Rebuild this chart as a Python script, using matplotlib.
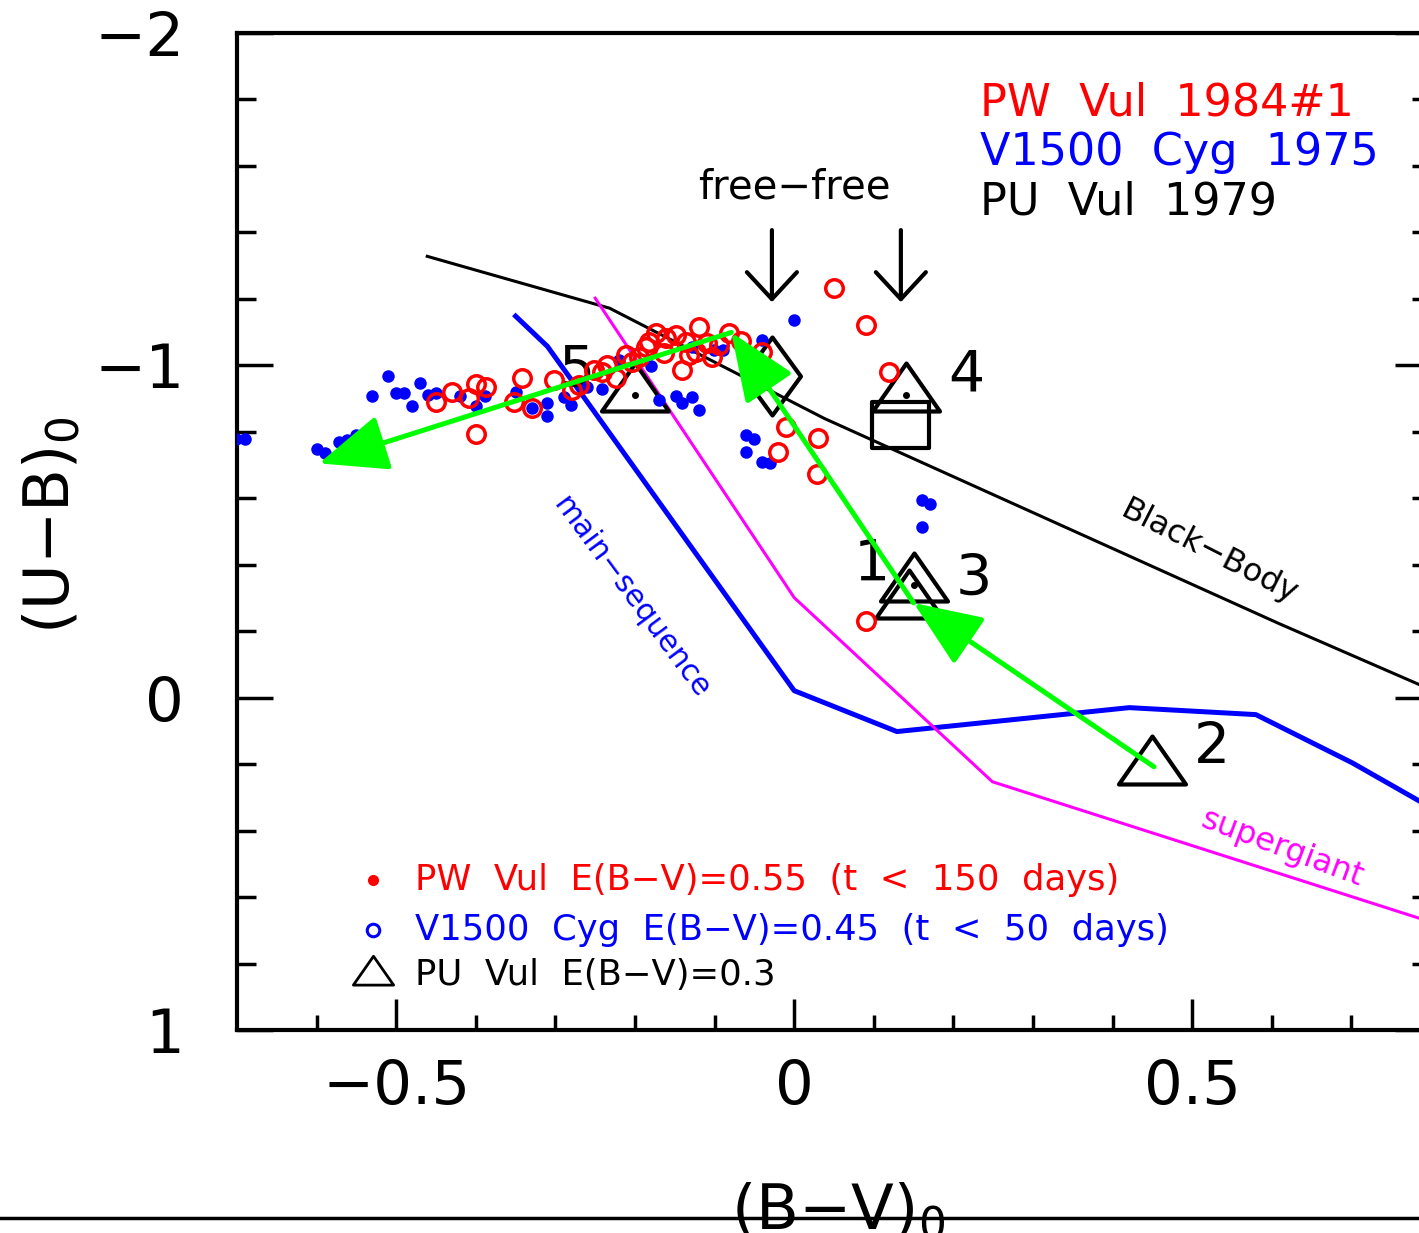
import matplotlib

matplotlib.use("Agg")

import matplotlib.pyplot as plt
from matplotlib.lines import Line2D
from matplotlib.markers import MarkerStyle
from matplotlib.path import Path


# PW Vul 1984#1, dereddened with E(B-V)=0.55
pw_bv = [
    -0.450, -0.430, -0.408, -0.400, -0.387, -0.400, -0.352, -0.342, -0.330,
    -0.302, -0.279, -0.270, -0.251, -0.241, -0.235, -0.224, -0.211, -0.204,
    -0.195, -0.186, -0.182, -0.173, -0.163, -0.161, -0.148, -0.141, -0.136,
    -0.132, -0.123, -0.119, -0.109, -0.103, -0.094, -0.082, -0.067, -0.040,
    0.050, 0.090, 0.119, -0.010, 0.030, -0.020, 0.029, 0.090,
]
pw_ub = [
    -0.889, -0.919, -0.901, -0.943, -0.934, -0.792, -0.889, -0.961, -0.873,
    -0.955, -0.925, -0.940, -0.985, -0.979, -1.000, -0.961, -1.030, -1.009,
    -1.024, -1.054, -1.069, -1.096, -1.036, -1.081, -1.090, -0.985, -1.069,
    -1.030, -1.039, -1.114, -1.066, -1.024, -1.060, -1.096, -1.072, -1.039,
    -1.232, -1.120, -0.979, -0.813, -0.780, -0.738, -0.672, -0.232,
]

# V1500 Cyg 1975, dereddened with E(B-V)=0.45
cyg_bv = [
    -0.701, -0.690, -0.600, -0.589, -0.572, -0.562, -0.550, -0.530, -0.510,
    -0.500, -0.490, -0.480, -0.470, -0.460, -0.450, -0.420, -0.400, -0.389,
    -0.349, -0.329, -0.310, -0.310, -0.289, -0.280, -0.260, -0.241, -0.220,
    -0.180, -0.170, -0.148, -0.141, -0.129, -0.119, -0.129, -0.101, -0.090,
    -0.040, 0.000, -0.060, -0.050, -0.060, -0.040, -0.030, 0.160, 0.170,
    0.160,
]
cyg_ub = [
    -0.777, -0.777, -0.747, -0.735, -0.768, -0.774, -0.789, -0.907, -0.967,
    -0.916, -0.916, -0.877, -0.946, -0.910, -0.916, -0.907, -0.877, -0.907,
    -0.919, -0.873, -0.886, -0.849, -0.904, -0.880, -0.934, -0.928, -1.015,
    -0.997, -0.895, -0.907, -0.886, -0.904, -0.867, -1.054, -1.045, -1.045,
    -1.075, -1.136, -0.789, -0.777, -0.738, -0.708, -0.705, -0.596, -0.584,
    -0.515,
]

# PU Vul 1979, E(B-V)=0.3, numbered epochs
pu_bv = [0.144, 0.450, 0.151, 0.141, -0.200]
pu_ub = [-0.289, 0.211, -0.340, -0.910, -0.910]
pu_labels = ["1", "2", "3", "4", "5"]
pu_dotted = [False, False, True, True, True]

# extra single points
square_bv, square_ub = 0.133, -0.819
diamond_bv, diamond_ub = -0.028, -0.967

# reference loci
bb_bv = [-0.461, -0.232, 0.038, 0.609, 0.800]
bb_ub = [-1.328, -1.172, -0.840, -0.223, -0.024]

ms_bv = [-0.350, -0.310, 0.000, 0.129, 0.421, 0.580, 0.701, 0.800]
ms_ub = [-1.148, -1.057, -0.021, 0.102, 0.030, 0.051, 0.196, 0.331]

sg_bv = [-0.250, 0.000, 0.249, 0.800]
sg_ub = [-1.202, -0.301, 0.253, 0.675]

# evolution track of PU Vul (2 -> 3 -> peak -> blue end)
track_bv = [0.452, 0.150, -0.079, -0.597]
track_ub = [0.208, -0.285, -1.099, -0.705]

# free-free arrows
ff_bv = [-0.028, 0.134]
ff_ub_top = -1.407
ff_ub_tip = -1.190

RED = "#ff0000"
BLUE = "#0000ff"
MAGENTA = "#ff00ff"
GREEN = "#00ff00"

PX = 0.72  # points per pixel at dpi 100


def closed_marker(vertices):
    codes = [Path.MOVETO] + [Path.LINETO] * (len(vertices) - 1) + [Path.CLOSEPOLY]
    path = Path(list(vertices) + [vertices[0]], codes)
    return MarkerStyle(path, joinstyle="miter")


TRIANGLE = closed_marker([(-0.698, -1 / 3), (0.698, -1 / 3), (0.0, 2 / 3)])
SQUARE = closed_marker([(-0.5, -0.4035), (0.5, -0.4035), (0.5, 0.4035), (-0.5, 0.4035)])
DIAMOND = closed_marker([(0.0, -0.5), (0.365, 0.0), (0.0, 0.5), (-0.365, 0.0)])


def main() -> None:
    plt.rcParams["font.family"] = ["DejaVu Sans"]
    plt.rcParams["mathtext.fontset"] = "dejavusans"

    figure = plt.figure(figsize=(14.19, 12.33), dpi=100)
    axis = figure.add_axes([237 / 1419, 203 / 1233, 1194 / 1419, 997 / 1233])

    axis.set_xlim(-0.7, 0.8)
    axis.set_ylim(1.0, -2.0)

    for spine in axis.spines.values():
        spine.set_linewidth(3)

    axis.set_xticks([-0.5, 0.0, 0.5])
    axis.set_xticklabels(["\u22120.5", "0", "0.5"])
    axis.set_xticks([-0.6, -0.4, -0.3, -0.2, -0.1, 0.1, 0.2, 0.3, 0.4, 0.6, 0.7], minor=True)
    axis.set_yticks([-2, -1, 0, 1])
    axis.set_yticklabels(["\u22122", "\u22121", "0", "1"])
    axis.set_yticks([-1.8, -1.6, -1.4, -1.2, -0.8, -0.6, -0.4, -0.2, 0.2, 0.4, 0.6, 0.8], minor=True)

    axis.tick_params(axis="x", which="major", direction="in", length=22, width=2.5,
                     labelsize=44, pad=20)
    axis.tick_params(axis="x", which="minor", direction="in", length=11, width=2.5)
    axis.tick_params(axis="y", which="major", direction="in", length=26, width=2.5,
                     labelsize=44, pad=38, right=True)
    axis.tick_params(axis="y", which="minor", direction="in", length=14, width=2.5,
                     right=True)

    # reference loci
    axis.plot(bb_bv, bb_ub, color="black", linewidth=2.2, zorder=2)
    axis.plot(ms_bv, ms_ub, color=BLUE, linewidth=3.6, zorder=2)
    axis.plot(sg_bv, sg_ub, color=MAGENTA, linewidth=2.2, zorder=2)

    axis.text(-0.205, -0.301, "main\u2212sequence", color=BLUE, fontsize=21.5,
              rotation=-53.5, rotation_mode="anchor", ha="center", va="center")
    axis.text(0.521, -0.437, "Black\u2212Body", color="black", fontsize=23,
              rotation=-27, rotation_mode="anchor", ha="center", va="center")
    axis.text(0.613, 0.455, "supergiant", color=MAGENTA, fontsize=23,
              rotation=-20.5, rotation_mode="anchor", ha="center", va="center")

    # PU Vul epochs
    axis.plot(pu_bv, pu_ub, linestyle="none", marker=TRIANGLE, markersize=67 * PX,
              markerfacecolor="none", markeredgecolor="black", markeredgewidth=3,
              zorder=3)
    dot_bv = [bv for bv, dotted in zip(pu_bv, pu_dotted) if dotted]
    dot_ub = [ub for ub, dotted in zip(pu_ub, pu_dotted) if dotted]
    axis.plot(dot_bv, dot_ub, linestyle="none", marker="o", markersize=4,
              color="black", zorder=3)

    label_offsets = {
        "1": (-27, 26),
        "2": (43, 14),
        "3": (43, 3),
        "4": (43, 14),
        "5": (-42, 17),
    }
    for bv, ub, label in zip(pu_bv, pu_ub, pu_labels):
        axis.annotate(label, (bv, ub), xytext=label_offsets[label],
                      textcoords="offset points", fontsize=41,
                      ha="center", va="center", zorder=3)

    axis.plot([square_bv], [square_ub], marker=SQUARE, markersize=57 * PX,
              markerfacecolor="none", markeredgecolor="black", markeredgewidth=3,
              zorder=3)
    axis.plot([diamond_bv], [diamond_ub], marker=DIAMOND, markersize=78 * PX,
              markerfacecolor="none", markeredgecolor="black", markeredgewidth=3,
              zorder=3)

    # photometry
    axis.plot(cyg_bv, cyg_ub, linestyle="none", marker="o", markersize=9,
              color=BLUE, markeredgewidth=0, zorder=4)
    axis.plot(pw_bv, pw_ub, linestyle="none", marker="o", markersize=12.6,
              markerfacecolor="none", markeredgecolor=RED, markeredgewidth=2.5,
              zorder=4)

    # evolution track
    for start in range(len(track_bv) - 1):
        axis.annotate(
            "",
            xy=(track_bv[start + 1], track_ub[start + 1]),
            xytext=(track_bv[start], track_ub[start]),
            arrowprops=dict(
                arrowstyle="-|>,head_length=0.85,head_width=0.35",
                mutation_scale=50,
                color=GREEN,
                linewidth=3.6,
                shrinkA=0,
                shrinkB=0,
            ),
            zorder=5,
        )

    # free-free colours
    for bv in ff_bv:
        axis.annotate(
            "",
            xy=(bv, ff_ub_tip),
            xytext=(bv, ff_ub_top),
            arrowprops=dict(
                arrowstyle="->,head_length=0.97,head_width=0.9",
                mutation_scale=20,
                color="black",
                linewidth=3,
                shrinkA=0,
                shrinkB=0,
            ),
        )
    axis.text(0.0, -1.535, "free\u2212free", fontsize=29, ha="center", va="center")

    # object names
    names = [
        ("PW  Vul  1984#1", RED),
        ("V1500  Cyg  1975", BLUE),
        ("PU  Vul  1979", "black"),
    ]
    for row, (name, color) in enumerate(names):
        axis.text(0.622, 0.930 - 0.050 * row, name, color=color, fontsize=32,
                  transform=axis.transAxes, ha="left", va="center")

    # key
    key_y = [0.150, 0.100, 0.055]
    axis.plot([0.114], [key_y[0]], marker="o", markersize=7, color=RED,
              transform=axis.transAxes)
    axis.plot([0.114], [key_y[1]], marker="o", markersize=9, markerfacecolor="none",
              markeredgecolor=BLUE, markeredgewidth=2.2, transform=axis.transAxes)
    axis.plot([0.114], [key_y[2]], marker=TRIANGLE, markersize=29,
              markerfacecolor="none", markeredgecolor="black", markeredgewidth=2,
              transform=axis.transAxes)
    key_text = [
        ("PW  Vul  E(B\u2212V)=0.55  (t  <  150  days)", RED),
        ("V1500  Cyg  E(B\u2212V)=0.45  (t  <  50  days)", BLUE),
        ("PU  Vul  E(B\u2212V)=0.3", "black"),
    ]
    for y, (text, color) in zip(key_y, key_text):
        axis.text(0.149, y, text, color=color, fontsize=25.5,
                  transform=axis.transAxes, ha="left", va="center")

    figure.text(52 / 1419, 1 - 525 / 1233, r"$\mathrm{(U{-}B)_0}$", fontsize=45,
                rotation=90, ha="center", va="center")
    figure.text(838 / 1419, 1 - 1181 / 1233, r"$\mathrm{(B{-}V)_0}$", fontsize=45,
                ha="center", va="top")

    figure.add_artist(Line2D([0, 1], [1 - 1218 / 1233] * 2, color="black",
                             linewidth=2.5, transform=figure.transFigure))

    figure.savefig("out.png", dpi=100)


if __name__ == "__main__":
    main()
